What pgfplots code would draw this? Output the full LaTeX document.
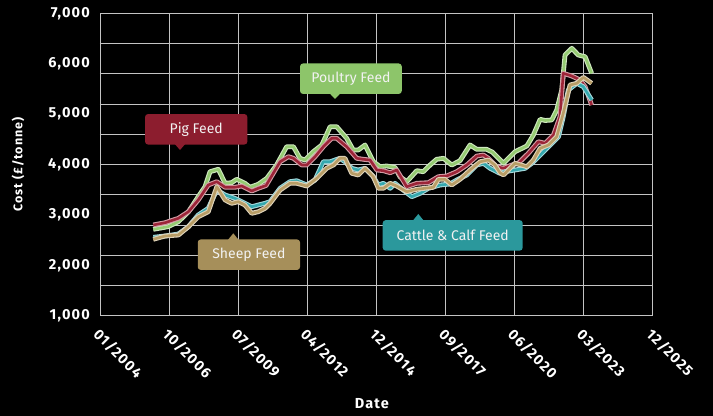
\documentclass[border=0pt]{standalone}
\usepackage{fontspec}
\setmainfont{Fira Sans}
\newfontfamily\tickfont[LetterSpace=8]{Fira Sans}
\usepackage{pgfplots}
\pgfplotsset{compat=1.18}
\usepackage{pgfplotstable}

\definecolor{poultry}{HTML}{8DC56A}
\definecolor{pig}{HTML}{8C1D2E}
\definecolor{cattle}{HTML}{2B989C}
\definecolor{sheep}{HTML}{A68F5A}
\definecolor{poultryL}{HTML}{95CB72}
\definecolor{pigL}{HTML}{9C2538}
\definecolor{cattleL}{HTML}{35A8AE}
\definecolor{sheepL}{HTML}{B89D66}
\definecolor{gridc}{HTML}{C4C4C4}
\definecolor{boxtext}{HTML}{F2F2F2}

\pgfplotstableread{
x v
2006.12 2714
2006.71 2766
2007.12 2865
2007.52 3063
2007.91 3361
2008.18 3559
2008.38 3857
2008.71 3905
2008.98 3627
2009.24 3639
2009.44 3706
2009.77 3627
2009.97 3548
2010.30 3607
2010.64 3726
2011.03 3990
2011.43 4353
2011.70 4353
2011.96 4123
2012.16 4089
2012.49 4254
2012.83 4387
2013.16 4750
2013.42 4750
2013.82 4520
2014.08 4288
2014.28 4288
2014.55 4387
2014.88 4055
2015.15 3956
2015.41 3970
2015.74 3944
2015.94 3758
2016.21 3659
2016.61 3877
2016.87 3857
2017.14 3990
2017.40 4103
2017.67 4123
2018.00 3990
2018.33 4075
2018.73 4387
2019.00 4301
2019.39 4301
2019.61 4248
2020.06 4024
2020.52 4254
2020.99 4367
2021.25 4585
2021.52 4897
2021.72 4873
2021.98 4883
2022.18 5081
2022.38 5478
2022.51 6172
2022.78 6305
2023.04 6172
2023.31 6139
2023.57 5809
}\poultrytab

\pgfplotstableread{
x v
2006.12 2800
2006.59 2845
2007.12 2932
2007.52 3063
2007.91 3296
2008.31 3593
2008.65 3659
2008.98 3548
2009.37 3548
2009.64 3573
2010.04 3474
2010.30 3528
2010.61 3583
2011.17 4055
2011.50 4155
2011.70 4123
2012.03 3990
2012.23 3990
2012.56 4155
2012.89 4353
2013.22 4520
2013.42 4520
2013.82 4353
2014.22 4123
2014.48 4103
2014.75 4089
2015.02 3891
2015.28 3877
2015.55 3837
2015.81 3891
2016.21 3559
2016.61 3627
2017.07 3639
2017.47 3758
2017.80 3772
2018.20 3857
2018.60 3990
2019.00 4168
2019.26 4188
2019.46 4123
2019.79 3956
2020.06 3924
2020.39 3990
2020.65 4024
2021.05 4222
2021.45 4452
2021.72 4420
2022.05 4585
2022.31 4948
2022.44 5809
2022.78 5756
2023.11 5676
2023.31 5543
2023.57 5180
}\pigtab

\pgfplotstableread{
x v
2006.12 2555
2006.59 2581
2007.12 2621
2007.52 2766
2007.91 2998
2008.31 3131
2008.65 3494
2008.98 3395
2009.37 3329
2009.77 3230
2010.04 3163
2010.30 3196
2010.57 3230
2010.77 3262
2011.17 3528
2011.56 3659
2011.83 3678
2012.23 3593
2012.56 3692
2012.89 4055
2013.16 4055
2013.55 4123
2013.75 4055
2014.02 3924
2014.28 3891
2014.55 3924
2014.88 3758
2015.07 3593
2015.28 3627
2015.55 3528
2015.74 3627
2016.07 3494
2016.41 3361
2016.74 3428
2017.07 3528
2017.54 3593
2017.93 3613
2018.20 3692
2018.60 3792
2019.00 3990
2019.26 4024
2019.53 3924
2019.92 3825
2020.12 3857
2020.52 3891
2020.92 3924
2021.19 4024
2021.52 4188
2021.85 4353
2022.25 4551
2022.44 4948
2022.64 5478
2022.98 5611
2023.24 5543
2023.57 5280
}\cattletab

\pgfplotstableread{
x v
2006.12 2516
2006.59 2581
2007.12 2601
2007.52 2766
2007.91 2964
2008.31 3063
2008.65 3559
2008.98 3296
2009.24 3230
2009.51 3262
2009.77 3196
2010.04 3032
2010.30 3063
2010.57 3131
2010.77 3230
2011.17 3494
2011.56 3627
2011.83 3627
2012.23 3573
2012.63 3726
2013.02 3924
2013.29 3990
2013.55 4123
2013.75 4123
2014.02 3825
2014.28 3792
2014.55 3924
2014.88 3758
2015.08 3528
2015.28 3528
2015.55 3627
2015.81 3573
2016.21 3460
2016.61 3508
2016.94 3528
2017.27 3548
2017.47 3706
2017.73 3706
2018.00 3593
2018.33 3706
2018.73 3891
2019.13 4055
2019.46 4089
2019.72 3990
2019.92 3837
2020.06 3792
2020.32 3924
2020.52 4024
2020.99 3956
2021.25 4089
2021.52 4321
2021.85 4387
2022.18 4551
2022.44 5016
2022.71 5577
2022.98 5611
2023.24 5730
2023.57 5611
}\sheeptab

\begin{document}
\begin{tikzpicture}
\useasboundingbox (-100bp,-100.3bp) rectangle (613bp,315.7bp);
\fill[black] (-100bp,-100.3bp) rectangle (613bp,315.7bp);
\begin{axis}[
  at={(0bp,0bp)}, anchor=south west,
  scale only axis, width=552.7bp, height=302.4bp,
  xmin=2004, xmax=2026, ymin=1000, ymax=7000,
  axis line style={gridc, line width=0.9bp},
  xtick={2004,2006.75,2009.5,2012.25,2015,2017.75,2020.5,2023.25,2026},
  xticklabels={01/2004,10/2006,07/2009,04/2012,12/2014,09/2017,06/2020,03/2023,12/2025},
  ytick={1000,2000,3000,4000,5000,6000,7000},
  yticklabels={{1,000},{2,000},{3,000},{4,000},{5,000},{6,000},{7,000}},
  xmajorgrids=true, ymajorgrids=false,
  extra y ticks={1600,2200,2800,3400,4000,4600,5200,5800,6400},
  extra y tick labels={},
  extra y tick style={ymajorgrids=true},
  grid style={gridc, line width=0.9bp},
  major tick length=0pt,
  tick label style={text=white, font=\tickfont\bfseries\fontsize{14.5bp}{16bp}\selectfont},
  yticklabel style={inner sep=0pt, anchor=east, xshift=-10bp},
  xticklabel style={inner sep=0pt, anchor=north west, xshift=1bp, yshift=-11bp, rotate=-45},
  xlabel={Date},
  ylabel={Cost (£/tonne)},
  label style={text=white},
  xlabel style={at={(axis description cs:0.492,-0.292)}, anchor=center, font=\tickfont\bfseries\fontsize{14.5bp}{16bp}\selectfont},
  ylabel style={at={(axis description cs:-0.1484,0.5)}, anchor=center, rotate=0, font=\tickfont\bfseries\fontsize{12.5bp}{14bp}\selectfont},
  clip=false,
]
\addplot[poultryL!45!white, line width=4.8bp, line join=round] table[x=x,y=v] {\poultrytab};
\addplot[poultryL, line width=2.6bp, line join=round] table[x=x,y=v] {\poultrytab};
\addplot[pigL!45!white, line width=4.8bp, line join=round] table[x=x,y=v] {\pigtab};
\addplot[pigL, line width=2.6bp, line join=round] table[x=x,y=v] {\pigtab};
\addplot[cattleL!45!white, line width=4.8bp, line join=round] table[x=x,y=v] {\cattletab};
\addplot[cattleL, line width=2.6bp, line join=round] table[x=x,y=v] {\cattletab};
\addplot[sheepL!45!white, line width=4.8bp, line join=round] table[x=x,y=v] {\sheeptab};
\addplot[sheepL, line width=2.6bp, line join=round] table[x=x,y=v] {\sheeptab};
\end{axis}
% annotation boxes
\tikzset{lbl/.style={rounded corners=3bp, inner sep=0pt, minimum height=30.5bp, text=boxtext, font=\fontsize{14bp}{16bp}\selectfont}}
\node[lbl, fill=pig, minimum width=102.3bp] at (96.2bp,186.4bp) {Pig Feed};
\fill[pig] (74.5bp,172bp) -- (80bp,165.7bp) -- (85.5bp,172bp) -- cycle;
\node[lbl, fill=poultry, minimum width=101.7bp] at (250.9bp,237bp) {Poultry Feed};
\fill[poultry] (229.5bp,222.5bp) -- (235bp,216.7bp) -- (240.5bp,222.5bp) -- cycle;
\node[lbl, fill=sheep, minimum width=102.3bp] at (148.9bp,61bp) {Sheep Feed};
\fill[sheep] (127.8bp,75.6bp) -- (133.3bp,82.4bp) -- (138.8bp,75.6bp) -- cycle;
\node[lbl, fill=cattle, minimum width=140bp] at (352.7bp,80.3bp) {Cattle \& Calf Feed};
\fill[cattle] (312.8bp,95bp) -- (318.3bp,101.7bp) -- (323.8bp,95bp) -- cycle;
\end{tikzpicture}
\end{document}
